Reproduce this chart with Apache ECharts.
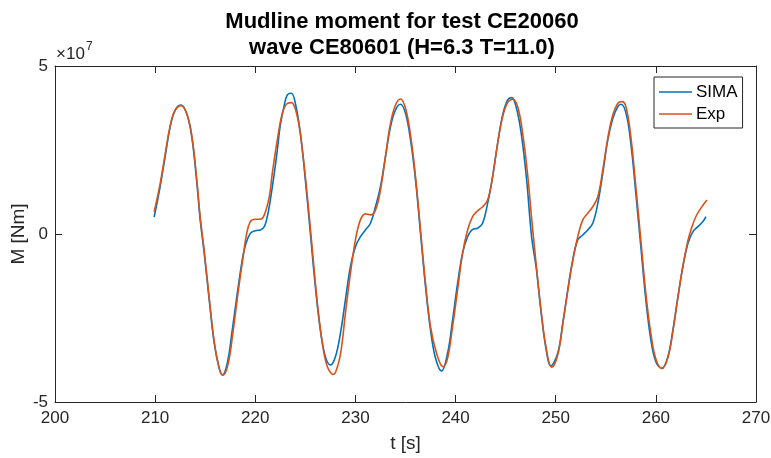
<!DOCTYPE html>
<html>
<head>
<meta charset="utf-8">
<script src="https://cdn.jsdelivr.net/npm/echarts@6/dist/echarts.min.js"></script>
<style>
html,body{margin:0;padding:0;background:#fff;}
#chart{width:771px;height:458px;}
</style>
</head>
<body>
<div id="chart"></div>
<script>
// Mudline moment, values in units of 1e7 Nm
var tSima = [209.9,210.5,211.0,211.5,212.0,212.6,213.2,213.7,214.2,214.5,214.9,215.4,215.9,216.4,216.7,217.2,217.7,218.2,218.7,219.0,219.5,220.0,220.5,220.9,221.2,221.5,221.9,222.2,222.5,222.9,223.2,223.6,224.0,224.5,225.0,225.5,226.0,226.5,227.0,227.5,228.0,228.5,229.0,229.5,230.0,230.5,231.0,231.5,232.0,232.5,233.0,233.5,234.0,234.5,235.0,235.5,236.0,236.5,237.0,237.5,238.0,238.6,239.2,239.7,240.2,240.7,241.2,241.7,242.2,242.7,243.2,243.7,244.2,244.7,245.2,245.6,246.1,246.6,247.1,247.6,248.05,248.55,249.05,249.5,250.2,250.7,251.2,251.7,252.2,252.7,253.2,253.7,254.2,254.7,255.2,255.7,256.2,256.5,257.0,257.5,258.0,258.5,259.0,259.5,260.0,260.6,261.2,261.7,262.2,262.7,263.2,263.7,264.2,264.7,265.0];
var mSima = [0.50,1.41,2.30,3.19,3.69,3.84,3.54,2.80,1.41,0.42,-0.57,-1.96,-3.25,-4.00,-4.20,-3.85,-2.86,-1.77,-0.77,-0.35,0.02,0.10,0.12,0.22,0.52,1.01,1.81,2.50,3.24,3.84,4.14,4.19,3.89,3.00,1.61,0.02,-1.57,-2.86,-3.65,-3.90,-3.65,-2.96,-1.96,-0.97,-0.38,-0.08,0.12,0.32,0.81,1.41,2.30,3.19,3.69,3.86,3.59,2.80,1.61,0.02,-1.57,-2.86,-3.70,-4.08,-3.55,-2.56,-1.47,-0.57,-0.08,0.14,0.17,0.32,0.91,1.71,2.70,3.54,3.99,4.06,3.72,2.90,1.60,-0.10,-1.00,-2.36,-3.45,-3.93,-3.55,-2.66,-1.67,-0.77,-0.18,-0.03,0.12,0.32,0.91,1.81,2.80,3.44,3.79,3.86,3.62,2.70,1.21,-0.38,-1.96,-3.15,-3.80,-4.00,-3.65,-2.86,-1.87,-0.97,-0.28,0.07,0.22,0.37,0.52];
var tExp = [209.9,210.5,211.0,211.5,212.0,212.6,213.2,213.7,214.2,214.5,214.9,215.4,215.9,216.4,216.8,217.3,217.8,218.3,218.8,219.1,219.5,220.0,220.5,220.9,221.4,221.7,222.2,222.7,223.2,223.6,224.2,224.7,225.2,225.7,226.2,226.7,227.2,227.8,228.3,228.6,229.0,229.5,230.0,230.5,231.0,231.5,232.0,232.5,233.0,233.5,234.0,234.5,235.0,235.5,236.0,236.5,237.0,237.5,238.1,238.75,239.2,239.7,240.2,240.7,241.2,241.7,242.2,242.7,243.2,243.7,244.2,244.7,245.2,245.7,246.2,246.7,247.2,247.6,248.05,248.55,249.05,249.6,250.2,250.7,251.2,251.7,252.2,252.7,253.2,253.7,254.2,254.7,255.2,255.7,256.2,256.6,257.0,257.5,258.0,258.5,259.0,259.5,260.0,260.6,261.2,261.7,262.2,262.7,263.2,263.5,264.0,264.5,265.1];
var mExp = [0.66,1.50,2.38,3.22,3.68,3.82,3.54,2.85,1.48,0.50,-0.50,-1.90,-3.20,-4.00,-4.20,-3.85,-2.86,-1.70,-0.65,-0.05,0.37,0.44,0.44,0.57,1.11,1.81,2.80,3.59,3.89,3.91,3.49,2.50,1.11,-0.48,-2.06,-3.25,-3.95,-4.18,-3.85,-3.40,-2.36,-1.17,-0.18,0.42,0.60,0.57,0.71,1.31,2.30,3.29,3.84,4.02,3.74,2.95,1.71,0.12,-1.47,-2.76,-3.55,-3.95,-3.70,-2.76,-1.67,-0.57,0.12,0.52,0.69,0.81,1.01,1.71,2.70,3.49,3.91,4.01,3.79,3.00,1.75,0.45,-0.90,-2.30,-3.40,-3.97,-3.60,-2.70,-1.70,-0.80,-0.08,0.42,0.62,0.81,1.11,1.91,2.85,3.54,3.89,3.94,3.80,2.90,1.41,-0.18,-1.77,-2.96,-3.72,-4.00,-3.68,-2.90,-1.90,-0.95,-0.20,0.12,0.52,0.77,1.01];
var seriesNames = ['SIMA', 'Exp'];
var xTicks = {min: 200, max: 270, interval: 10};
var yTicks = {min: -5, max: 5, interval: 5};
var titleLines = ['Mudline moment for test CE20060', 'wave CE80601 (H=6.3 T=11.0)'];

function pairs(t, m) {
  var out = [];
  for (var i = 0; i < Math.min(t.length, m.length); i++) out.push([t[i], m[i]]);
  return out;
}

var FONT = '"Liberation Sans", Helvetica, Arial, sans-serif';
var INK = '#262626';

var chart = echarts.init(document.getElementById('chart'), null, {renderer: 'canvas'});
var baseX = {
  type: 'value', min: xTicks.min, max: xTicks.max, interval: xTicks.interval,
  axisLine: {show: true, onZero: false, lineStyle: {color: INK, width: 1}},
  axisTick: {show: true, inside: true, length: 7, lineStyle: {color: INK, width: 1}},
  splitLine: {show: false}
};
var baseY = {
  type: 'value', min: yTicks.min, max: yTicks.max, interval: yTicks.interval,
  axisLine: {show: true, onZero: false, lineStyle: {color: INK, width: 1}},
  axisTick: {show: true, inside: true, length: 7, lineStyle: {color: INK, width: 1}},
  splitLine: {show: false}
};

chart.setOption({
  animation: false,
  backgroundColor: '#fff',
  title: {
    text: titleLines.join('\n'),
    left: 397, top: 4, textAlign: 'center',
    textStyle: {fontFamily: FONT, fontSize: 22, fontWeight: 'bold', color: '#000', lineHeight: 26}
  },
  grid: {left: 55, right: 15, top: 66, bottom: 56, containLabel: false, outerBoundsMode: 'none'},
  legend: {
    data: seriesNames,
    orient: 'vertical', left: 654, top: 77,
    icon: 'rect', itemWidth: 33, itemHeight: 1.6, itemGap: 2,
    padding: [5, 5, 4, 5],
    backgroundColor: '#fff', borderColor: INK, borderWidth: 1, borderRadius: 0,
    textStyle: {fontFamily: FONT, fontSize: 17, color: '#000', lineHeight: 20, padding: [0, 0, 0, -1]}
  },
  xAxis: [
    Object.assign({}, baseX, {
      position: 'bottom',
      axisLabel: {show: true, fontFamily: FONT, fontSize: 17, color: INK, margin: 8},
      name: 't [s]', nameLocation: 'middle', nameGap: 32, nameMoveOverlap: false,
      nameTextStyle: {fontFamily: FONT, fontSize: 19, color: INK}
    }),
    Object.assign({}, baseX, {position: 'top', axisLabel: {show: false}})
  ],
  yAxis: [
    Object.assign({}, baseY, {
      position: 'left',
      axisLabel: {show: true, fontFamily: FONT, fontSize: 17, color: INK, margin: 7},
      name: 'M [Nm]', nameLocation: 'middle', nameGap: 27, nameMoveOverlap: false,
      nameTextStyle: {fontFamily: FONT, fontSize: 19, color: INK}
    }),
    Object.assign({}, baseY, {position: 'right', axisLabel: {show: false}})
  ],
  graphic: [
    {type: 'text', left: 56, top: 46, style: {text: '\u00d710', font: '17px ' + FONT, fill: INK}},
    {type: 'text', left: 86, top: 41, style: {text: '7', font: '12px ' + FONT, fill: INK}}
  ],
  series: [
    {name: seriesNames[0], type: 'line', xAxisIndex: 0, yAxisIndex: 0, data: pairs(tSima, mSima),
     showSymbol: false, smooth: 0.4, color: '#0072BD', lineStyle: {width: 1.6, color: '#0072BD'}},
    {name: seriesNames[1], type: 'line', xAxisIndex: 0, yAxisIndex: 0, data: pairs(tExp, mExp),
     showSymbol: false, smooth: 0.4, color: '#D95319', lineStyle: {width: 1.6, color: '#D95319'}}
  ]
});
</script>
</body>
</html>
